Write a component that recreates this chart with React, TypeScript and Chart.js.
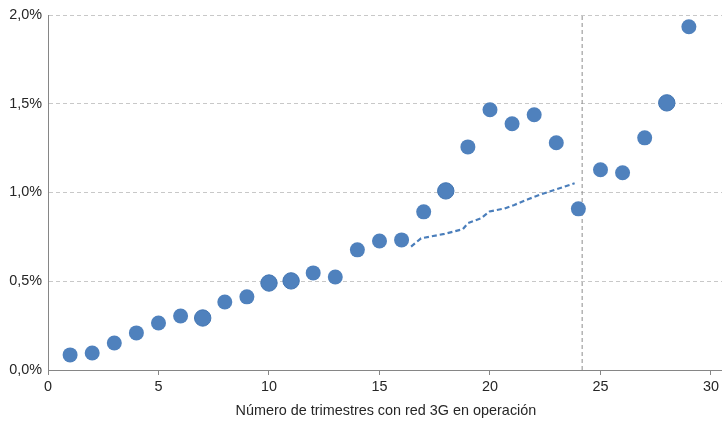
import React, { useEffect, useRef } from "react";
import { Chart, registerables } from "chart.js";

Chart.register(...registerables);

const quarters = [1, 2, 3, 4, 5, 6, 7, 8, 9, 10, 11, 12, 13, 14, 15, 16, 17, 18, 19, 20, 21, 22, 23, 24, 25, 26, 27, 28, 29];
const rates = [0.085, 0.096, 0.152, 0.209, 0.265, 0.304, 0.293, 0.383, 0.412, 0.49, 0.502, 0.547, 0.524, 0.677, 0.727, 0.733, 0.891, 1.009, 1.257, 1.466, 1.387, 1.438, 1.28, 0.908, 1.128, 1.111, 1.308, 1.505, 1.934];
const bigPoints = [7, 10, 11, 18, 28];

const trendX = [16.43, 16.88, 17.94, 18.77, 19.0, 19.6, 19.98, 20.66, 21.1, 21.72, 22.32, 22.93, 23.83];
const trendY = [0.695, 0.742, 0.767, 0.793, 0.827, 0.855, 0.893, 0.91, 0.93, 0.962, 0.99, 1.015, 1.052];

const cutoffX = 24.17;
const xTicks = [0, 5, 10, 15, 20, 25, 30];
const yTicks = [0, 0.5, 1.0, 1.5, 2.0];
const xTitle = "Número de trimestres con red 3G en operación";

export default function App() {
  const ref = useRef<HTMLCanvasElement | null>(null);

  useEffect(() => {
    document.body.style.margin = "0";
    const canvas = ref.current;
    if (!canvas) return;
    const font = { family: "'Liberation Sans', Arial, sans-serif", size: 14.4 };
    const chart = new Chart(canvas, {
      type: "scatter",
      data: {
        datasets: [
          {
            label: "cutoff",
            data: [
              { x: cutoffX, y: 0 },
              { x: cutoffX, y: 2.0 },
            ],
            showLine: true,
            borderColor: "#8C8C8C",
            borderWidth: 1,
            borderDash: [4, 3],
            pointRadius: 0,
            order: 3,
          },
          {
            label: "trend",
            data: trendX.map((x, i) => ({ x, y: trendY[i] })),
            showLine: true,
            borderColor: "#4A7EBB",
            borderWidth: 2.2,
            borderDash: [5, 3],
            pointRadius: 0,
            tension: 0,
            order: 2,
          },
          {
            label: "rates",
            data: quarters.map((x, i) => ({ x, y: rates[i] })),
            backgroundColor: "#4F81BD",
            borderColor: quarters.map((q) => (bigPoints.includes(q) ? "#4275B2" : "#4F81BD")),
            borderWidth: quarters.map((q) => (bigPoints.includes(q) ? 1 : 0)),
            pointRadius: quarters.map((q) => (bigPoints.includes(q) ? 8.2 : 7.5)),
            order: 1,
          },
        ],
      },
      options: {
        responsive: false,
        animation: false,
        layout: { padding: { top: 15, right: 0, left: 0, bottom: 0 } },
        plugins: { legend: { display: false }, tooltip: { enabled: false } },
        scales: {
          x: {
            type: "linear",
            min: 0,
            max: 30.58,
            afterBuildTicks: (scale: any) => {
              scale.ticks = xTicks.map((v) => ({ value: v }));
            },
            afterFit: (scale: any) => {
              scale.height = 51;
            },
            grid: {
              drawOnChartArea: false,
              drawTicks: true,
              tickLength: 5,
              color: "#868686",
            },
            border: { display: true, color: "#868686", width: 1 },
            ticks: {
              font,
              color: "#262626",
              padding: 3,
              maxRotation: 0,
              callback: (v: any) => String(v),
            },
            title: {
              display: true,
              text: xTitle,
              font,
              color: "#262626",
              padding: { top: 4, bottom: 1 },
            },
          },
          y: {
            type: "linear",
            min: 0,
            max: 2.0,
            afterBuildTicks: (scale: any) => {
              scale.ticks = yTicks.map((v) => ({ value: v }));
            },
            afterFit: (scale: any) => {
              scale.width = 48;
            },
            grid: {
              drawTicks: false,
              color: (ctx: any) => (ctx.tick && ctx.tick.value === 0 ? "rgba(0,0,0,0)" : "#C8C8C8"),
              lineWidth: 1,
            },
            border: { display: true, color: "#868686", width: 1, dash: [4, 3] },
            ticks: {
              font,
              color: "#262626",
              padding: 6,
              callback: (v: any) => Number(v).toFixed(1).replace(".", ",") + "%",
            },
          },
        },
      },
    });
    return () => chart.destroy();
  }, []);

  return (
    <div style={{ position: "fixed", left: 0, top: 0, width: 722, height: 421, overflow: "hidden", background: "#fff" }}>
      <canvas ref={ref} width={733} height={421} style={{ display: "block" }} />
    </div>
  );
}
